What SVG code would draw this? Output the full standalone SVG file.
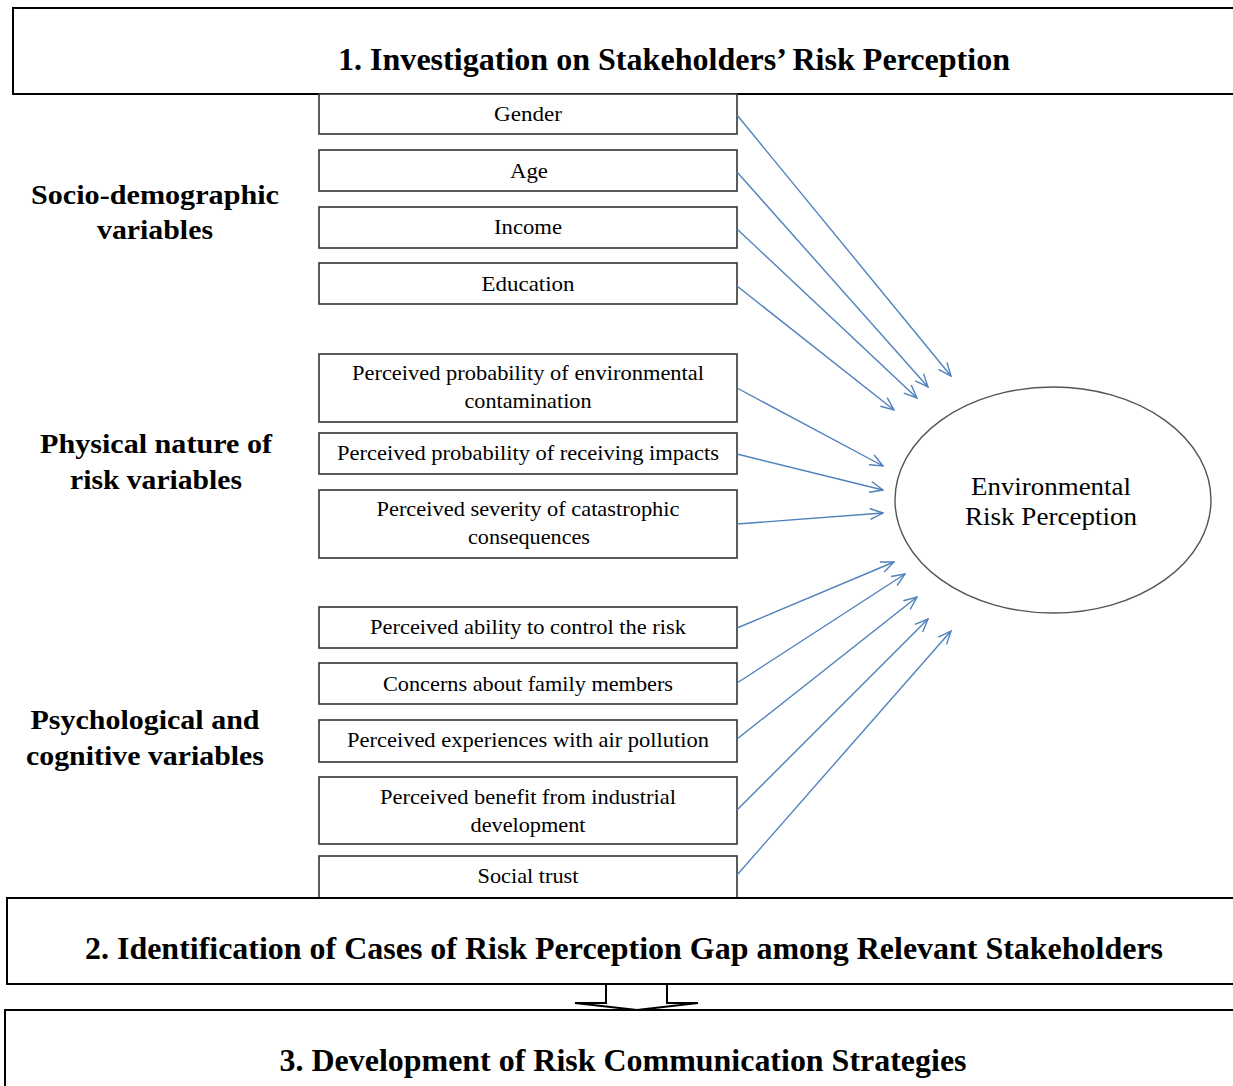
<svg xmlns="http://www.w3.org/2000/svg" width="1233" height="1086" viewBox="0 0 1233 1086">
  <style>
    .stage { fill: #ffffff; stroke: #000000; stroke-width: 2; }
    .stage-title { font-family: "Liberation Serif", "Times New Roman", serif; font-weight: bold; font-size: 32px; fill: #000000; text-anchor: middle; }
    .group-label { font-family: "Liberation Serif", "Times New Roman", serif; font-weight: bold; font-size: 27px; fill: #000000; text-anchor: middle; }
    .factor { fill: #ffffff; stroke: #333333; stroke-width: 1.6; }
    .factor-text { font-family: "Liberation Serif", "Times New Roman", serif; font-size: 21px; fill: #000000; text-anchor: middle; }
    .outcome { fill: #ffffff; stroke: #555555; stroke-width: 1.4; }
    .outcome-text { font-family: "Liberation Serif", "Times New Roman", serif; font-size: 25px; fill: #000000; text-anchor: middle; }
    .link { stroke: #4F81BD; stroke-width: 1.4; fill: none; marker-end: url(#open-arrow); }
  </style>
  <defs>
    <marker id="open-arrow" viewBox="-1 -1 15 13" refX="13" refY="5.5" markerWidth="15" markerHeight="13" markerUnits="userSpaceOnUse" orient="auto">
      <path d="M0,0 L13,5.5 L0,11" fill="none" stroke="#4F81BD" stroke-width="1.4"/>
    </marker>
  </defs>

  <rect width="1233" height="1086" fill="#ffffff"/>

  <!-- Stage 1 banner -->
  <g id="stage1">
    <rect class="stage" x="13" y="8" width="1230" height="86"/>
    <text class="stage-title" x="674" y="70" textLength="672" lengthAdjust="spacingAndGlyphs">1. Investigation on Stakeholders’ Risk Perception</text>
  </g>

  <!-- Group labels -->
  <g id="label-socio">
    <text class="group-label" x="155" y="204" textLength="248" lengthAdjust="spacingAndGlyphs">Socio-demographic</text>
    <text class="group-label" x="155" y="239" textLength="116" lengthAdjust="spacingAndGlyphs">variables</text>
  </g>
  <g id="label-physical">
    <text class="group-label" x="156" y="453" textLength="232" lengthAdjust="spacingAndGlyphs">Physical nature of</text>
    <text class="group-label" x="156" y="489" textLength="172" lengthAdjust="spacingAndGlyphs">risk variables</text>
  </g>
  <g id="label-psych">
    <text class="group-label" x="145" y="729" textLength="229" lengthAdjust="spacingAndGlyphs">Psychological and</text>
    <text class="group-label" x="145" y="765" textLength="238" lengthAdjust="spacingAndGlyphs">cognitive variables</text>
  </g>

  <!-- Factor boxes -->
  <g id="gender">
    <rect class="factor" x="319" y="94" width="418" height="40"/>
    <text class="factor-text" x="528" y="121" textLength="68" lengthAdjust="spacingAndGlyphs">Gender</text>
  </g>
  <g id="age">
    <rect class="factor" x="319" y="150" width="418" height="41"/>
    <text class="factor-text" x="529" y="178" textLength="38" lengthAdjust="spacingAndGlyphs">Age</text>
  </g>
  <g id="income">
    <rect class="factor" x="319" y="207" width="418" height="41"/>
    <text class="factor-text" x="528" y="234" textLength="68" lengthAdjust="spacingAndGlyphs">Income</text>
  </g>
  <g id="education">
    <rect class="factor" x="319" y="263" width="418" height="41"/>
    <text class="factor-text" x="528" y="291" textLength="93" lengthAdjust="spacingAndGlyphs">Education</text>
  </g>
  <g id="prob-contamination">
    <rect class="factor" x="319" y="354" width="418" height="68"/>
    <text class="factor-text" x="528" y="380" textLength="352" lengthAdjust="spacingAndGlyphs">Perceived probability  of environmental</text>
    <text class="factor-text" x="528" y="408" textLength="127" lengthAdjust="spacingAndGlyphs">contamination</text>
  </g>
  <g id="prob-impacts">
    <rect class="factor" x="319" y="433" width="418" height="41"/>
    <text class="factor-text" x="528" y="460" textLength="382" lengthAdjust="spacingAndGlyphs">Perceived probability  of receiving  impacts</text>
  </g>
  <g id="severity">
    <rect class="factor" x="319" y="490" width="418" height="68"/>
    <text class="factor-text" x="528" y="516" textLength="303" lengthAdjust="spacingAndGlyphs">Perceived severity  of catastrophic</text>
    <text class="factor-text" x="529" y="544" textLength="122" lengthAdjust="spacingAndGlyphs">consequences</text>
  </g>
  <g id="control">
    <rect class="factor" x="319" y="607" width="418" height="41"/>
    <text class="factor-text" x="528" y="634" textLength="316" lengthAdjust="spacingAndGlyphs">Perceived ability to control the risk</text>
  </g>
  <g id="family">
    <rect class="factor" x="319" y="663" width="418" height="41"/>
    <text class="factor-text" x="528" y="691" textLength="290" lengthAdjust="spacingAndGlyphs">Concerns about family members</text>
  </g>
  <g id="experience">
    <rect class="factor" x="319" y="720" width="418" height="42"/>
    <text class="factor-text" x="528" y="747" textLength="362" lengthAdjust="spacingAndGlyphs">Perceived experiences  with air pollution</text>
  </g>
  <g id="benefit">
    <rect class="factor" x="319" y="777" width="418" height="67"/>
    <text class="factor-text" x="528" y="804" textLength="296" lengthAdjust="spacingAndGlyphs">Perceived benefit from industrial</text>
    <text class="factor-text" x="528" y="832" textLength="115" lengthAdjust="spacingAndGlyphs">development</text>
  </g>
  <g id="trust">
    <rect class="factor" x="319" y="856" width="418" height="42"/>
    <text class="factor-text" x="528" y="883" textLength="101" lengthAdjust="spacingAndGlyphs">Social trust</text>
  </g>

  <!-- Outcome -->
  <g id="risk-perception">
    <ellipse class="outcome" cx="1053" cy="500" rx="158" ry="113"/>
    <text class="outcome-text" x="1051" y="495" textLength="160" lengthAdjust="spacingAndGlyphs">Environmental</text>
    <text class="outcome-text" x="1051" y="525" textLength="172" lengthAdjust="spacingAndGlyphs">Risk Perception</text>
  </g>

  <!-- Connectors -->
  <g id="connectors">
    <line class="link" x1="737" y1="115" x2="951" y2="376"/>
    <line class="link" x1="737" y1="172" x2="928" y2="387"/>
    <line class="link" x1="737" y1="229" x2="917" y2="398"/>
    <line class="link" x1="737" y1="286" x2="894" y2="410"/>
    <line class="link" x1="737" y1="388" x2="883" y2="466"/>
    <line class="link" x1="737" y1="454" x2="883" y2="490"/>
    <line class="link" x1="737" y1="524" x2="883" y2="513"/>
    <line class="link" x1="737" y1="628" x2="894" y2="562"/>
    <line class="link" x1="737" y1="683" x2="905" y2="574"/>
    <line class="link" x1="737" y1="739" x2="917" y2="597"/>
    <line class="link" x1="737" y1="810" x2="928" y2="619"/>
    <line class="link" x1="737" y1="875" x2="951" y2="631"/>
    <path id="stage-flow" d="M606,984 L606,1003 L575,1003 L637,1010 L698,1003 L667,1003 L667,984" fill="#ffffff" stroke="#000000" stroke-width="2" stroke-linejoin="miter"/>
  </g>

  <!-- Stage 2 -->
  <g id="stage2">
    <rect class="stage" x="7" y="898" width="1236" height="86"/>
    <text class="stage-title" x="624" y="959" textLength="1078" lengthAdjust="spacingAndGlyphs">2. Identification of Cases of Risk Perception Gap among Relevant Stakeholders</text>
  </g>

  <!-- Stage 3 -->
  <g id="stage3">
    <rect class="stage" x="5" y="1010" width="1238" height="90"/>
    <text class="stage-title" x="623" y="1071" textLength="687" lengthAdjust="spacingAndGlyphs">3. Development of Risk Communication Strategies</text>
  </g>
</svg>
